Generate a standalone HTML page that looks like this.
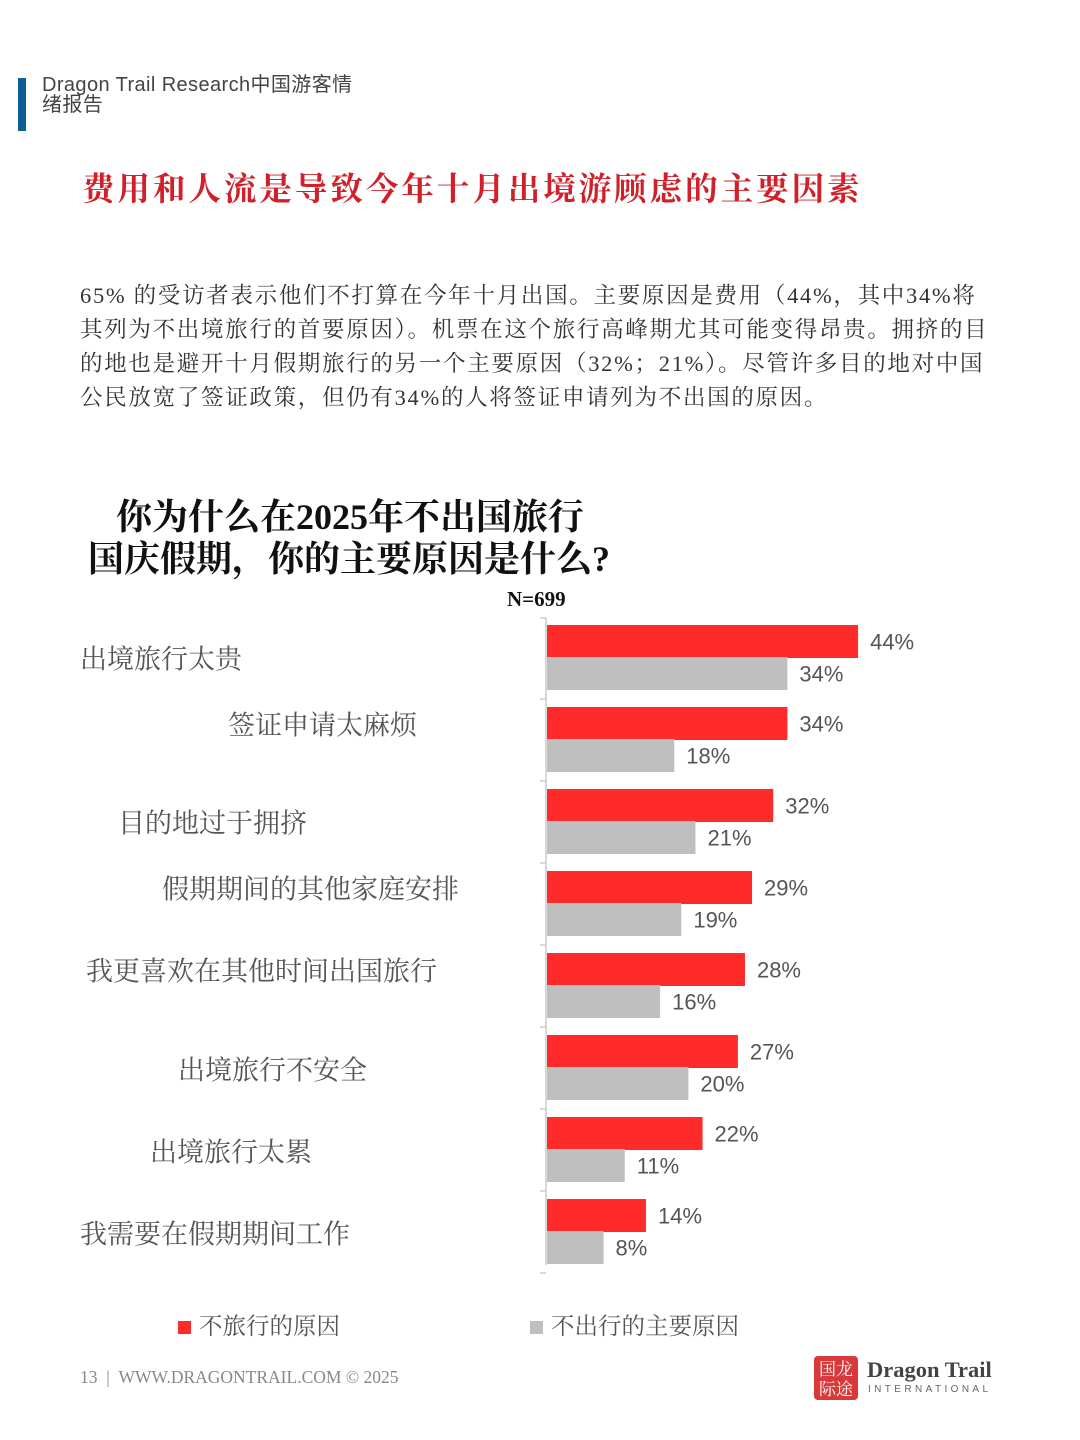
<!DOCTYPE html>
<html><head><meta charset="utf-8">
<style>
body{margin:0;width:1080px;height:1440px;background:#fff;position:relative;overflow:hidden;font-family:"Liberation Sans","Noto Sans CJK SC",sans-serif;}
.abs{position:absolute;white-space:nowrap;}
.cat{position:absolute;font-family:"Liberation Serif","Noto Serif CJK SC",serif;font-size:27px;color:#555;transform:translateY(-50%);white-space:nowrap;}
.para{font-family:"Liberation Serif","Noto Serif CJK SC",serif;font-size:22.5px;letter-spacing:1.7px;color:#333;line-height:34px;}
</style></head><body>
<div class="abs" style="left:18px;top:78px;width:8px;height:53px;background:#0f5e94"></div>
<div class="abs" style="left:42px;top:75px;font-size:20px;letter-spacing:0.4px;line-height:20px;color:#444">Dragon Trail Research中国游客情<br>绪报告</div>
<div class="abs" style="left:82px;top:163px;font-family:'Liberation Serif','Noto Serif CJK SC',serif;font-weight:bold;font-size:32.6px;letter-spacing:2.9px;color:#d0212a">费用和人流是导致今年十月出境游顾虑的主要因素</div>
<div class="abs para" style="left:80px;top:279px">65% 的受访者表示他们不打算在今年十月出国。主要原因是费用（44%，其中34%将<br>其列为不出境旅行的首要原因）。机票在这个旅行高峰期尤其可能变得昂贵。拥挤的目<br>的地也是避开十月假期旅行的另一个主要原因（32%；21%）。尽管许多目的地对中国<br>公民放宽了签证政策，但仍有34%的人将签证申请列为不出国的原因。</div>
<div class="abs" style="left:88px;top:496px;font-family:'Liberation Serif','Noto Serif CJK SC',serif;font-weight:bold;font-size:36px;line-height:42px;color:#111"><span style="padding-left:28px">你为什么在2025年不出国旅行</span><br>国庆假期，你的主要原因是什么?</div>
<div class="abs" style="left:507px;top:587px;font-family:'Liberation Serif',serif;font-weight:bold;font-size:21px;color:#111">N=699</div>

<div class="cat" style="left:80px;top:657px">出境旅行太贵</div>
<div class="cat" style="left:228px;top:723px">签证申请太麻烦</div>
<div class="cat" style="left:118px;top:821px">目的地过于拥挤</div>
<div class="cat" style="left:162px;top:887px">假期期间的其他家庭安排</div>
<div class="cat" style="left:86px;top:969px">我更喜欢在其他时间出国旅行</div>
<div class="cat" style="left:178px;top:1068px">出境旅行不安全</div>
<div class="cat" style="left:150px;top:1150px">出境旅行太累</div>
<div class="cat" style="left:80px;top:1232px">我需要在假期期间工作</div>

<svg id="chart" class="abs" style="left:0;top:0" width="1080" height="1440"></svg>

<div class="abs" style="left:178px;top:1307px;font-family:'Liberation Serif','Noto Serif CJK SC',serif;font-size:23.5px;color:#555"><span style="display:inline-block;width:13px;height:13px;background:#ff2a2a;margin-right:8px"></span>不旅行的原因</div>
<div class="abs" style="left:530px;top:1307px;font-family:'Liberation Serif','Noto Serif CJK SC',serif;font-size:23.5px;color:#555"><span style="display:inline-block;width:13px;height:13px;background:#bfbfbf;margin-right:8px"></span>不出行的主要原因</div>
<div class="abs" style="left:80px;top:1367px;font-family:'Liberation Serif',serif;font-size:17.5px;color:#888">13 &nbsp;| &nbsp;WWW.DRAGONTRAIL.COM © 2025</div>
<div class="abs" style="left:814px;top:1356px;width:44px;height:44px;background:#d8393a;border-radius:4px;color:#fff;font-family:'Noto Serif CJK SC',serif;font-size:17px;line-height:20px;text-align:center;padding-top:2px;box-sizing:border-box">国龙<br>际途</div>
<div class="abs" style="left:867px;top:1357px;font-family:'Liberation Serif',serif;font-weight:bold;font-size:22.5px;color:#444">Dragon Trail</div>
<div class="abs" style="left:868px;top:1384px;font-size:10px;letter-spacing:3.4px;color:#666">INTERNATIONAL</div>

<script>
const categories=["出境旅行太贵","签证申请太麻烦","目的地过于拥挤","假期期间的其他家庭安排","我更喜欢在其他时间出国旅行","出境旅行不安全","出境旅行太累","我需要在假期期间工作"];
const reasonValues=[44,34,32,29,28,27,22,14];
const mainReasonValues=[34,18,21,19,16,20,11,8];
const ns="http://www.w3.org/2000/svg";
const svg=document.getElementById('chart');
const x0=547,pxPer=7.07,yTop=618,groupH=82,barH=33;
function xs(v){return x0+v*pxPer;}
function yg(i){return yTop+i*groupH;}
function mk(tag,attrs){const e=document.createElementNS(ns,tag);for(const k in attrs)e.setAttribute(k,attrs[k]);svg.appendChild(e);return e;}
const axis=mk('line',{x1:546,x2:546,y1:yTop,y2:yg(categories.length)-9,stroke:'#ccc','stroke-width':1.5});


for(let i=0;i<=categories.length;i++){
  const yy=yg(i)-(i?1:0);
  const t=mk('line',{x1:540,x2:546,y1:yy,y2:yy,stroke:'#ccc','stroke-width':1.5});
  
  
}
categories.forEach((c,i)=>{
  const y=yg(i)+7;
  const r=mk('rect',{x:x0,y:y,width:xs(reasonValues[i])-x0,height:barH,fill:'#ff2a2a'});
  
  
  const g=mk('rect',{x:x0,y:y+barH-1,width:xs(mainReasonValues[i])-x0,height:barH,fill:'#bfbfbf'});
  
  
  const t1=mk('text',{x:xs(reasonValues[i])+12,y:y+barH/2+8,'font-size':22,fill:'#555','font-family':'Liberation Sans, sans-serif'});
  t1.textContent=reasonValues[i]+'%';
  
  
  const t2=mk('text',{x:xs(mainReasonValues[i])+12,y:y+barH*1.5+7,'font-size':22,fill:'#555','font-family':'Liberation Sans, sans-serif'});
  t2.textContent=mainReasonValues[i]+'%';
  
  
});
</script>
</body></html>
